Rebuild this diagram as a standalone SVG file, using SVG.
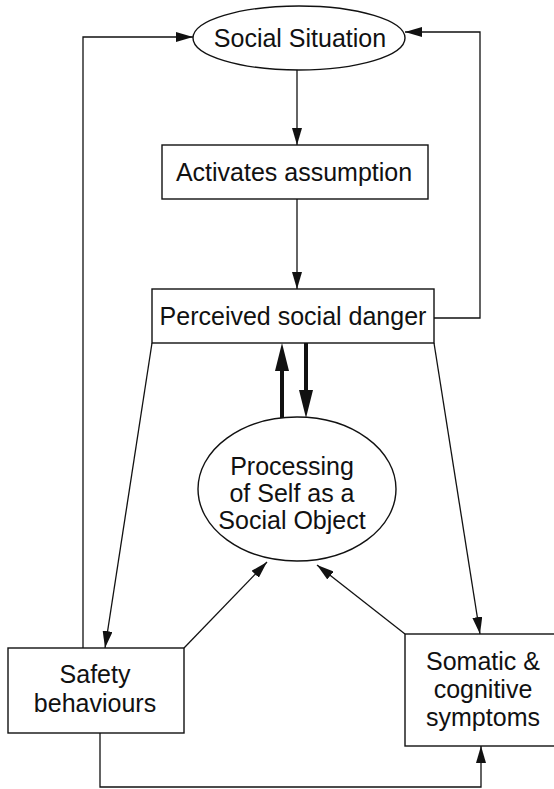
<svg xmlns="http://www.w3.org/2000/svg" width="554" height="789" viewBox="0 0 554 789">
<style>
.n{fill:#fff;stroke:#111;stroke-width:1.4}
.t{font-family:"Liberation Sans",Arial,sans-serif;font-size:25px;fill:#111;text-anchor:middle}
.c{fill:none;stroke:#111;stroke-width:1.3}
.k{fill:none;stroke:#111;stroke-width:4}
</style>
<defs>
<marker id="a" viewBox="0 0 17 10" refX="17" refY="5" markerWidth="17" markerHeight="10" markerUnits="userSpaceOnUse" orient="auto"><path d="M0,0 L17,5 L0,10 z" fill="#111"/></marker>
<marker id="b" viewBox="0 0 28 14" refX="0" refY="7" markerWidth="28" markerHeight="14" markerUnits="userSpaceOnUse" orient="auto"><path d="M0,0 L28,7 L0,14 z" fill="#111"/></marker>
</defs>
<g id="connectors">
<path class="c" d="M297,70 L297,145" marker-end="url(#a)"/>
<path class="c" d="M297,199 L297,289" marker-end="url(#a)"/>
<path class="c" d="M434,318 L480,318 L480,32 L405,32" marker-end="url(#a)"/>
<path class="c" d="M83,648 L83,37 L193,37" marker-end="url(#a)"/>
<path class="k" d="M282,418 L282,371" marker-end="url(#b)"/>
<path class="k" d="M306,343 L306,390" marker-end="url(#b)"/>
<path class="c" d="M152,343 L105,648" marker-end="url(#a)"/>
<path class="c" d="M434,343 L480,634" marker-end="url(#a)"/>
<path class="c" d="M184,648 L267,562" marker-end="url(#a)"/>
<path class="c" d="M405,634 L317,565" marker-end="url(#a)"/>
<path class="c" d="M100,733 L100,787 L481,787 L481,746" marker-end="url(#a)"/>
</g>
<g id="social-situation">
<ellipse class="n" cx="299" cy="38" rx="106" ry="32"/>
<text class="t" x="300" y="47">Social Situation</text>
</g>
<g id="activates-assumption">
<rect class="n" x="162" y="145" width="266" height="54"/>
<text class="t" x="294" y="181">Activates assumption</text>
</g>
<g id="perceived-social-danger">
<rect class="n" x="152" y="289" width="282" height="54"/>
<text class="t" x="293" y="325">Perceived social danger</text>
</g>
<g id="processing-self">
<ellipse class="n" cx="297" cy="489" rx="99" ry="72"/>
<text class="t" x="292" y="475">Processing</text>
<text class="t" x="292" y="502">of Self as a</text>
<text class="t" x="292" y="529">Social Object</text>
</g>
<g id="safety-behaviours">
<rect class="n" x="8" y="648" width="176" height="85"/>
<text class="t" x="95" y="683">Safety</text>
<text class="t" x="95" y="712">behaviours</text>
</g>
<g id="somatic-symptoms">
<rect class="n" x="405" y="634" width="150" height="112"/>
<text class="t" x="483" y="670">Somatic &amp;</text>
<text class="t" x="483" y="698">cognitive</text>
<text class="t" x="483" y="726">symptoms</text>
</g>
</svg>
